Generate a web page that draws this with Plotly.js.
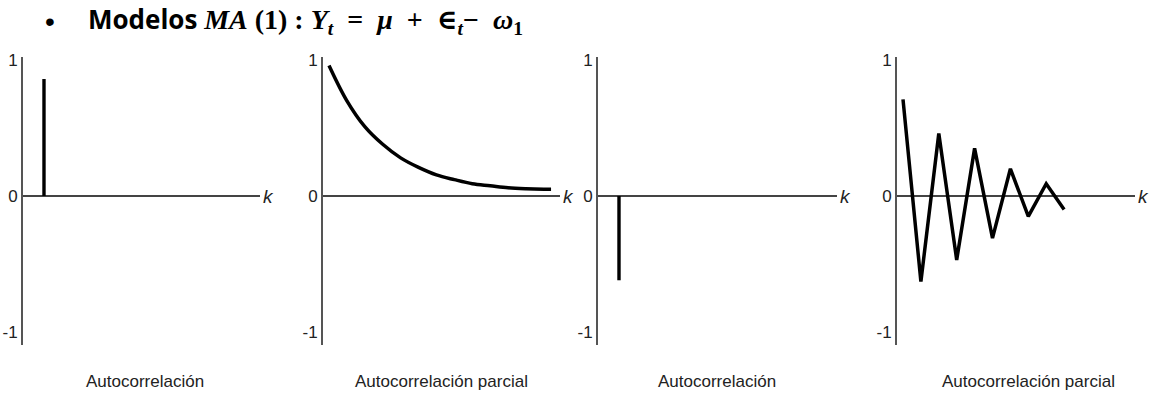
<!DOCTYPE html>
<html>
<head>
<meta charset="utf-8">
<script src="https://cdn.plot.ly/plotly-3.0.1.min.js"></script>
<style>body{margin:0;background:#fff}</style>
</head>
<body>
<div id="myDiv" style="width:1158px;height:404px"></div>
<script>
// Modelo MA(1): ACF y PACF teoricas (dos casos)

// caso 1 - autocorrelacion, un solo pico positivo
var acfLags1 = [1];
var acfVals1 = [0.86];

// caso 1 - autocorrelacion parcial, decae suave
var pacfK1 = [1, 2, 3, 4, 5, 6, 7, 8, 9, 10, 11, 12, 13, 13.4];
var pacfVals1 = [0.96, 0.70, 0.51, 0.38, 0.28, 0.21, 0.155, 0.12, 0.09, 0.075, 0.06, 0.053, 0.05, 0.05];

// caso 2 - autocorrelacion, un solo pico negativo
var acfLags2 = [1];
var acfVals2 = [-0.62];

// caso 2 - autocorrelacion parcial, alterna de signo
var pacfK2 = [1, 2, 3, 4, 5, 6, 7, 8, 9, 10];
var pacfVals2 = [0.71, -0.63, 0.46, -0.47, 0.35, -0.31, 0.20, -0.15, 0.09, -0.10];

var etiquetas = ['Autocorrelación', 'Autocorrelación parcial', 'Autocorrelación', 'Autocorrelación parcial'];
var yTicks = [-1, 0, 1];
var yTickText = ['-1', '0', '1'];

var W = 1158, H = 404;
var fuente = 'Liberation Sans, Arial, sans-serif';

// bordes de cada panel en pixeles: eje y -> fin de la linea del cero
var paneles = [
  {x0: 23,  x1: 260,  rango: [-0.173, 13.07]},
  {x0: 323, x1: 560,  rango: [0.665, 13.9]},
  {x0: 598, x1: 837,  rango: [-0.173, 13.18]},
  {x0: 897, x1: 1135, rango: [0.665, 13.96]}
];
var centrosEtiqueta = [145, 441, 717, 1028];

var data = [
  {x: acfLags1, y: acfVals1, type: 'bar', width: 0.19, xaxis: 'x', yaxis: 'y',
   marker: {color: '#000'}},
  {x: pacfK1, y: pacfVals1, type: 'scatter', mode: 'lines', xaxis: 'x2', yaxis: 'y2',
   line: {color: '#000', width: 3.5, shape: 'spline', smoothing: 1}},
  {x: acfLags2, y: acfVals2, type: 'bar', width: 0.19, xaxis: 'x3', yaxis: 'y3',
   marker: {color: '#000'}},
  {x: pacfK2, y: pacfVals2, type: 'scatter', mode: 'lines', xaxis: 'x4', yaxis: 'y4',
   line: {color: '#000', width: 3.5}}
];

var layout = {
  width: W,
  height: H,
  margin: {l: 0, r: 0, t: 0, b: 0},
  paper_bgcolor: '#fff',
  plot_bgcolor: 'rgba(0,0,0,0)',
  showlegend: false,
  annotations: []
};

var yDom = [1 - 345 / H, 1 - 57 / H];
var yRango = [-1.096, 1.022];
var yCero = 1 - 196 / H;

for (var i = 0; i < paneles.length; i++) {
  var s = i == 0 ? '' : String(i + 1);
  layout['xaxis' + s] = {
    domain: [paneles[i].x0 / W, paneles[i].x1 / W],
    range: paneles[i].rango,
    visible: false,
    fixedrange: true
  };
  layout['yaxis' + s] = {
    domain: yDom,
    range: yRango,
    anchor: 'x' + s,
    showgrid: false,
    showline: true,
    linecolor: '#555',
    linewidth: 2,
    zeroline: true,
    zerolinecolor: '#444',
    zerolinewidth: 1.8,
    tickvals: yTicks,
    ticktext: yTickText,
    ticks: '',
    ticklabelstandoff: 0,
    tickfont: {family: fuente, size: 17, color: '#222'},
    fixedrange: true
  };
  // la "k" al final del eje horizontal
  layout.annotations.push({
    xref: 'paper', yref: 'paper',
    x: (paneles[i].x1 + 1) / W, y: yCero,
    xanchor: 'left', yanchor: 'middle',
    text: '<i>k</i>', showarrow: false,
    font: {family: fuente, size: 19, color: '#222'}
  });
  // etiqueta debajo
  layout.annotations.push({
    xref: 'paper', yref: 'paper',
    x: centrosEtiqueta[i] / W, y: 1 - 381 / H,
    xanchor: 'center', yanchor: 'middle',
    text: etiquetas[i], showarrow: false,
    font: {family: fuente, size: 17, color: '#222'}
  });
}

// titulo con viñeta
var mate = 'font-family:Liberation Serif, DejaVu Serif, serif;font-size:28px';
var sp = '&nbsp;';
layout.annotations.push({
  xref: 'paper', yref: 'paper',
  x: 50 / W, y: 1 - 21 / H,
  xanchor: 'center', yanchor: 'middle',
  text: '•', showarrow: false,
  font: {family: fuente, size: 28, color: '#000'}
});
layout.annotations.push({
  xref: 'paper', yref: 'paper',
  x: 86 / W, y: 1 - 20 / H,
  xanchor: 'left', yanchor: 'middle', showarrow: false,
  text: '<b>Modelos <span style="' + mate + '"><i>MA</i>' + sp + '(1)' + sp + ':' + sp + '<i>Y<sub>t</sub></i>' + sp + sp + '=' + sp + sp +
        '<i>μ</i>' + sp + sp + '+' + sp + sp + '∈<sub><i>t</i></sub>−' + sp + sp + '<i>ω</i><sub>1</sub></span></b>',
  font: {family: 'Open Sans, Liberation Sans, sans-serif', size: 26, color: '#000'}
});

Plotly.newPlot('myDiv', data, layout, {staticPlot: true, displayModeBar: false});
</script>
</body>
</html>
